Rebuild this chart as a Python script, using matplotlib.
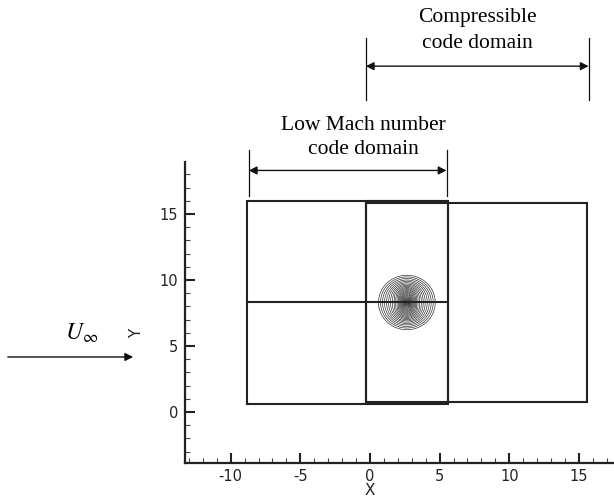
import numpy as np
import matplotlib
matplotlib.use("Agg")
import matplotlib.pyplot as plt
from matplotlib.ticker import MultipleLocator

# Domain outlines (x0, x1, y0, y1) in X/Y units
low_mach_box = (-8.8, 5.6, 0.6, 16.0)
compressible_box = (-0.25, 15.6, 0.75, 15.85)
overlap_box = (-0.25, 5.6, 0.7, 15.95)
split_y = 8.3

# Dimension arrows above the domains
low_mach_span = (-8.7, 5.5)
compressible_span = (-0.3, 15.7)

# Vortex placement
vortex_center = (2.65, 8.3)
vortex_radius = 2.05
n_contours = 24

plt.rcParams["axes.unicode_minus"] = False
plt.rcParams["mathtext.fontset"] = "stix"

fig = plt.figure(figsize=(6.14, 4.98), dpi=100)
ax = fig.add_axes([0.3013, 0.0703, 0.6987, 0.6044])
ax.set_xlim(-13.28, 17.52)
ax.set_ylim(-3.86, 18.94)

def rect(b, lw):
    x0, x1, y0, y1 = b
    ax.plot([x0, x1, x1, x0, x0], [y0, y0, y1, y1, y0], color="#222222", lw=lw,
            solid_joinstyle="miter")

rect(low_mach_box, 1.5)
rect(compressible_box, 1.5)
rect(overlap_box, 1.5)
ax.plot([low_mach_box[0], low_mach_box[1]], [split_y, split_y], color="#222222", lw=1.5)

# vortex contour field
cx, cy = vortex_center
gx = np.linspace(cx - 2.6, cx + 2.6, 500)
gy = np.linspace(cy - 2.6, cy + 2.6, 500)
X, Y = np.meshgrid(gx, gy)
r = np.hypot(X - cx, Y - cy)
th = np.arctan2(Y - cy, X - cx)
field = r * (1 + 0.45 * np.cos(2 * th) * np.exp(-(r / 1.0) ** 2))
levels = vortex_radius * np.linspace(0.15, 1.0, n_contours) ** 1.8
ax.contour(X, Y, field, levels=levels, colors="#222222", linewidths=0.45)

# axes styling
for s in ("top", "right"):
    ax.spines[s].set_visible(False)
for s in ("left", "bottom"):
    ax.spines[s].set_linewidth(1.6)
    ax.spines[s].set_color("#222222")
ax.xaxis.set_major_locator(MultipleLocator(5))
ax.xaxis.set_minor_locator(MultipleLocator(1))
ax.yaxis.set_major_locator(MultipleLocator(5))
ax.yaxis.set_minor_locator(MultipleLocator(1))
ax.tick_params(which="major", direction="in", length=7, width=1.5, labelsize=10.5,
               color="#222222", labelcolor="#222222")
ax.tick_params(which="minor", direction="in", length=3.5, width=0.8, color="#444444")
ax.tick_params(axis="x", which="major", pad=4)
ax.tick_params(axis="y", which="major", pad=5)
ax.patch.set_alpha(0)

ax.text(0.431, -0.09, "X", transform=ax.transAxes, ha="center", va="center",
        fontsize=11, color="#222222")
ax.text(-0.112, 0.432, "Y", transform=ax.transAxes, ha="center", va="center",
        fontsize=11, rotation=90, color="#222222")

serif = "Liberation Serif"
arrow_kw = dict(arrowstyle="<|-|>", color="#111111", lw=1.0, mutation_scale=12,
                shrinkA=0, shrinkB=0)

# low Mach number domain annotation
a, b = low_mach_span
for xv in (a, b):
    ax.plot([xv, xv], [16.4, 19.85], color="#111111", lw=0.9, clip_on=False)
ax.annotate("", xy=(a, 18.3), xytext=(b, 18.3), arrowprops=arrow_kw,
            annotation_clip=False)
ax.text(-0.5, 21.7, "Low Mach number", ha="center", va="center", fontsize=15.5,
        family=serif, clip_on=False)
ax.text(-0.5, 19.85, "code domain", ha="center", va="center", fontsize=15.5,
        family=serif, clip_on=False)

# compressible domain annotation
a, b = compressible_span
for xv in (a, b):
    ax.plot([xv, xv], [23.6, 28.3], color="#111111", lw=0.9, clip_on=False)
ax.annotate("", xy=(a, 26.2), xytext=(b, 26.2), arrowprops=arrow_kw,
            annotation_clip=False)
ax.text(7.7, 29.9, "Compressible", ha="center", va="center", fontsize=15.5,
        family=serif, clip_on=False)
ax.text(7.7, 27.95, "code domain", ha="center", va="center", fontsize=15.5,
        family=serif, clip_on=False)

# free stream arrow
ax.annotate("", xy=(-17.0, 4.17), xytext=(-26.0, 4.17),
            arrowprops=dict(arrowstyle="-|>", color="#111111", lw=1.0,
                            mutation_scale=12, shrinkA=0, shrinkB=0),
            annotation_clip=False)
ax.text(-20.7, 6.0, r"$U_\infty$", ha="center", va="center", fontsize=17,
        clip_on=False)

fig.savefig("out.png", dpi=100)
